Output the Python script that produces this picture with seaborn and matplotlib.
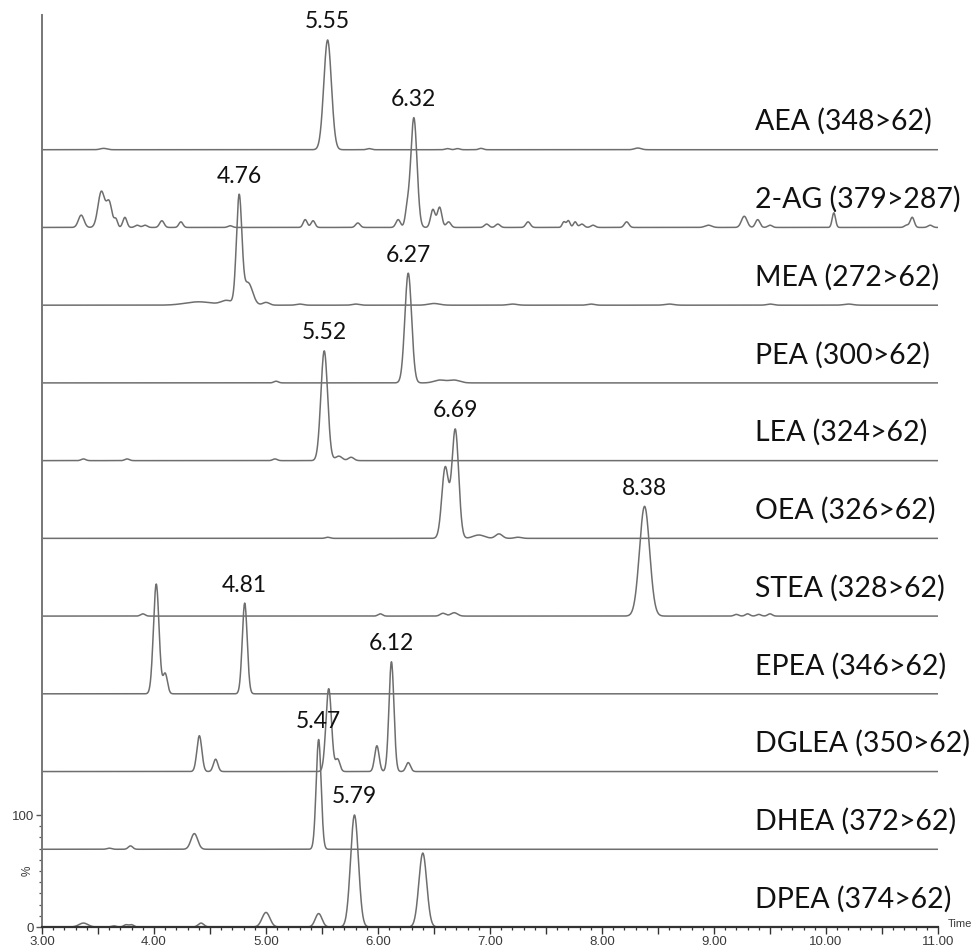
import numpy as np
import pandas as pd
import matplotlib
matplotlib.use("Agg")
import matplotlib.pyplot as plt
import seaborn as sns
from matplotlib.ticker import MultipleLocator, FixedLocator

# ---------------- data ----------------
compounds = ["AEA", "2-AG", "MEA", "PEA", "LEA", "OEA", "STEA", "EPEA", "DGLEA", "DHEA", "DPEA"]
transitions = ["348>62", "379>287", "272>62", "300>62", "324>62", "326>62",
               "328>62", "346>62", "350>62", "372>62", "374>62"]
labelled_rt = [5.55, 6.32, 4.76, 6.27, 5.52, 6.69, 8.38, 4.81, 6.12, 5.47, 5.79]

# peaks per trace: (retention time [min], relative intensity [%], peak sigma [min])
AEA_PEAKS = [(3.55, 1.2, 0.03), (5.55, 98, 0.034), (5.92, 1.0, 0.02), (6.62, 1.0, 0.02),
             (6.71, 1.0, 0.02), (6.92, 1.2, 0.02), (8.32, 1.5, 0.03)]
AG2_PEAKS = [(3.35, 11, 0.025), (3.53, 32, 0.03), (3.60, 22, 0.025), (3.66, 7, 0.015),
             (3.74, 9, 0.018), (3.85, 2, 0.02), (3.92, 2, 0.02), (4.07, 6, 0.02),
             (4.24, 5, 0.018), (4.68, 1.5, 0.02), (5.35, 7, 0.018), (5.42, 6, 0.018),
             (5.82, 4, 0.02), (6.18, 7, 0.02), (6.26, 14, 0.018), (6.32, 98, 0.028),
             (6.49, 16, 0.02), (6.55, 18, 0.02), (6.63, 5, 0.02), (6.97, 3, 0.02),
             (7.07, 3, 0.02), (7.34, 5, 0.02), (7.66, 5, 0.015), (7.70, 6, 0.015),
             (7.76, 5, 0.015), (7.82, 3, 0.02), (7.92, 2, 0.02), (8.22, 5, 0.02),
             (8.95, 2, 0.03), (9.27, 10, 0.025), (9.39, 7, 0.02), (9.50, 2, 0.02),
             (10.07, 13, 0.015), (10.72, 2, 0.02), (10.77, 9, 0.018), (10.93, 2, 0.02)]
MEA_PEAKS = [(4.40, 3, 0.12), (4.65, 4, 0.05), (4.76, 96, 0.024), (4.84, 20, 0.04),
             (5.00, 2.5, 0.03), (5.30, 1, 0.03), (5.80, 1, 0.03), (6.50, 1.5, 0.05),
             (7.20, 1, 0.04), (7.90, 1, 0.03), (8.60, 1, 0.04), (9.50, 1, 0.03),
             (10.20, 1, 0.04)]
PEA_PEAKS = [(5.09, 1.5, 0.02), (6.27, 98, 0.03), (6.55, 2.5, 0.05), (6.68, 2.5, 0.05)]
LEA_PEAKS = [(3.37, 1.5, 0.02), (3.76, 1.5, 0.02), (5.08, 1.5, 0.02), (5.52, 98, 0.03),
             (5.65, 4, 0.03), (5.76, 3, 0.025)]
OEA_PEAKS = [(5.55, 1, 0.02), (6.60, 63, 0.03), (6.69, 97, 0.03), (6.90, 3, 0.05),
             (7.08, 4, 0.03), (7.25, 1, 0.03)]
STEA_PEAKS = [(3.90, 2, 0.02), (6.02, 2, 0.02), (6.58, 2.5, 0.025), (6.68, 3, 0.03),
              (8.38, 98, 0.045), (9.20, 1.5, 0.02), (9.30, 2, 0.02), (9.40, 1.5, 0.02),
              (9.50, 2, 0.02)]
EPEA_PEAKS = [(4.02, 98, 0.025), (4.10, 18, 0.02), (4.81, 81, 0.022)]
DGLEA_PEAKS = [(4.405, 32, 0.022), (4.55, 11, 0.02), (5.56, 74, 0.025), (5.64, 11, 0.02),
               (5.99, 23, 0.02), (6.12, 98, 0.022), (6.27, 8, 0.02)]
DHEA_PEAKS = [(3.60, 1, 0.02), (3.79, 3, 0.02), (4.36, 14, 0.03), (5.47, 98, 0.022)]
DPEA_PEAKS = [(3.37, 3.5, 0.04), (3.64, 1, 0.02), (3.75, 2, 0.02), (3.80, 2, 0.02),
              (4.42, 3.5, 0.025), (5.00, 13, 0.035), (5.47, 12, 0.03), (5.79, 100, 0.035),
              (6.40, 66, 0.035)]

peak_lists = [AEA_PEAKS, AG2_PEAKS, MEA_PEAKS, PEA_PEAKS, LEA_PEAKS, OEA_PEAKS,
              STEA_PEAKS, EPEA_PEAKS, DGLEA_PEAKS, DHEA_PEAKS, DPEA_PEAKS]

x_ticks = [3, 4, 5, 6, 7, 8, 9, 10, 11]

# ---------------- build traces ----------------
STEP = 69.4  # vertical stacking offset between traces (in % units)
t = np.linspace(3.0, 11.0, 3201)
n = len(compounds)
frames = []
offsets = {}
for i, (cmp, peaks) in enumerate(zip(compounds, peak_lists)):
    sig = np.zeros_like(t)
    for rt, h, w in peaks:
        sig += h * np.exp(-0.5 * ((t - rt) / w) ** 2)
    off = (n - 1 - i) * STEP
    offsets[cmp] = off
    frames.append(pd.DataFrame({"time": t, "signal": sig + off, "compound": cmp}))
df = pd.concat(frames, ignore_index=True)

# ---------------- plot ----------------
sns.set_style("white")
plt.rcParams["font.family"] = ["Liberation Sans", "DejaVu Sans"]

W, H = 976, 950
fig = plt.figure(figsize=(W / 100, H / 100), dpi=100)
x0, x1, ytop, ybot = 42, 938, 15, 927
ax = fig.add_axes([x0 / W, 1 - ybot / H, (x1 - x0) / W, (ybot - ytop) / H])

line_col = "#6e6e6e"
sns.lineplot(data=df, x="time", y="signal", hue="compound",
             palette={c: line_col for c in compounds}, legend=False,
             estimator=None, sort=False, linewidth=1.1, ax=ax)

px_per_unit = 112.0 / 100.0
ax.set_xlim(3, 11)
ax.set_ylim(0, (ybot - ytop) / px_per_unit)

# spines
for s in ["top", "right"]:
    ax.spines[s].set_visible(False)
ax.spines["left"].set_color("#777777")
ax.spines["left"].set_linewidth(1.4)
ax.spines["bottom"].set_color("#333333")
ax.spines["bottom"].set_linewidth(1.6)

# x ticks
ax.set_xticks(np.arange(3, 11.01, 0.5))
ax.set_xticklabels([f"{v:.2f}" if v in x_ticks else "" for v in np.arange(3, 11.01, 0.5)])
ax.xaxis.set_minor_locator(MultipleLocator(0.1))
ax.tick_params(axis="x", which="major", direction="out", length=5, width=1.0,
               color="#333333", labelsize=9.5, labelcolor="#3a3a3a", pad=1.5, bottom=True)
ax.tick_params(axis="x", which="minor", direction="out", length=2.5, width=0.9,
               color="#333333", bottom=True)

# y ticks
ax.set_yticks([0, 100])
ax.set_yticklabels(["0", "100"])
ax.yaxis.set_minor_locator(FixedLocator(list(range(10, 100, 10))))
ax.tick_params(axis="y", which="major", direction="out", length=4, width=1.0,
               color="#555555", labelsize=9.5, labelcolor="#3a3a3a", pad=1.5, left=True)
ax.tick_params(axis="y", which="minor", direction="out", length=2.5, width=0.9,
               color="#555555", left=True)
ax.set_xlabel("")
ax.set_ylabel("")
ax.text(-14 / (x1 - x0), 50, "%", transform=ax.get_yaxis_transform(), rotation=90,
        ha="center", va="center", fontsize=8.5, color="#3a3a3a")
ax.text(1 + 10 / (x1 - x0), -2, "Time", transform=ax.get_yaxis_transform(),
        ha="left", va="bottom", fontsize=8, color="#3a3a3a", clip_on=False)

# trace labels
lab_font = ["Lato", "DejaVu Sans"]
for cmp, tr in zip(compounds, transitions):
    ax.text((755 - x0) / (x1 - x0), offsets[cmp] + 25, f"{cmp} ({tr})",
            transform=ax.get_yaxis_transform(), ha="left", va="center",
            fontsize=20.5, color="#111111", family=lab_font)

# peak labels
for cmp, rt in zip(compounds, labelled_rt):
    sub = df[(df["compound"] == cmp) & (df["time"].between(rt - 0.05, rt + 0.05))]
    apex = sub["signal"].max()
    ax.annotate(f"{rt:.2f}", xy=(rt, apex), xytext=(0, 13), textcoords="offset points",
                ha="center", va="center", fontsize=16.5, color="#111111", family=lab_font)

fig.savefig("out.png", dpi=100, facecolor="white")
